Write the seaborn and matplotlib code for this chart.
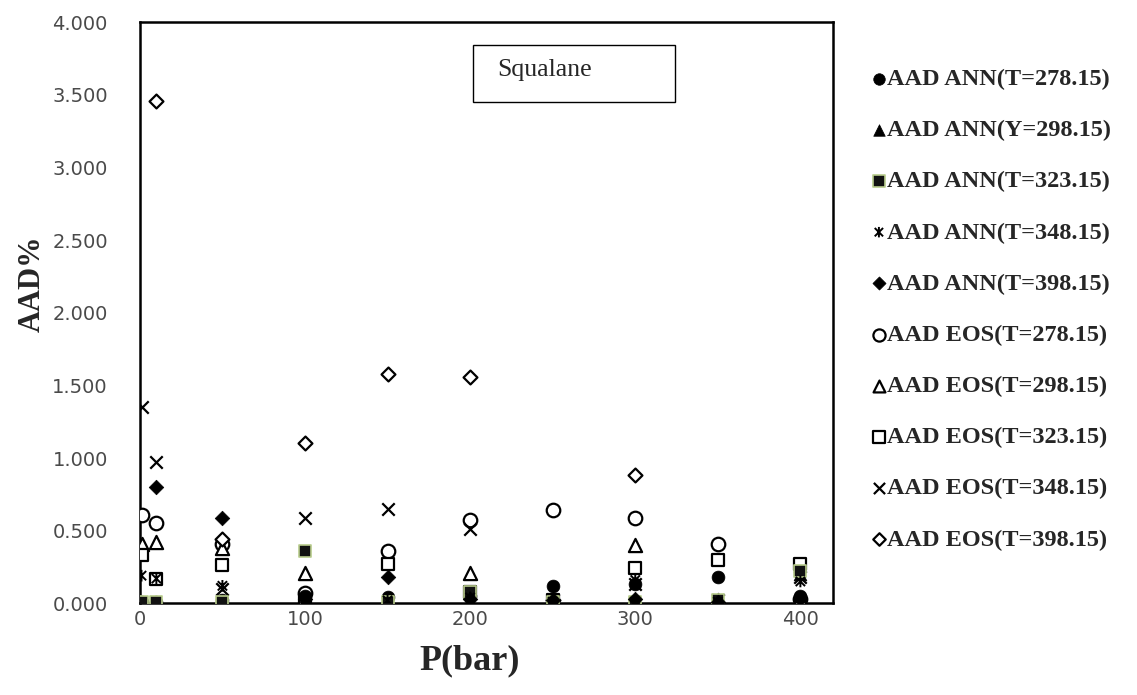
import numpy as np
import pandas as pd
import matplotlib
matplotlib.use("Agg")
import matplotlib.pyplot as plt
from matplotlib.path import Path
from matplotlib.patches import Rectangle
import seaborn as sns

# ---- data ----
pressure = [1, 10, 50, 100, 150, 200, 250, 300, 350, 400]
ann_278 = [0.01, 0.01, 0.02, 0.05, 0.04, 0.05, 0.12, 0.13, 0.18, 0.05]
ann_298 = [0.01, 0.01, 0.01, 0.02, 0.02, 0.02, 0.02, 0.03, 0.02, 0.20]
ann_323 = [0.01, 0.01, 0.01, 0.36, 0.01, 0.08, 0.01, 0.01, 0.02, 0.22]
ann_348 = [0.19, 0.17, 0.12, 0.03, 0.02, 0.04, 0.01, 0.16, 0.01, 0.15]
ann_398 = [np.nan, 0.80, 0.59, 0.03, 0.18, 0.03, 0.02, 0.03, 0.01, 0.03]
eos_278 = [0.61, 0.55, 0.41, 0.07, 0.36, 0.57, 0.64, 0.59, 0.41, 0.03]
eos_298 = [0.41, 0.42, 0.38, 0.21, 0.02, 0.21, 0.03, 0.40, 0.02, 0.03]
eos_323 = [0.33, 0.17, 0.26, 0.02, 0.27, 0.08, 0.02, 0.24, 0.30, 0.27]
eos_348 = [1.35, 0.97, 0.10, 0.59, 0.65, 0.51, 0.02, 0.13, 0.02, 0.18]
eos_398 = [np.nan, 3.46, 0.44, 1.10, 1.58, 1.56, 0.02, 0.88, np.nan, np.nan]

labels = [
    "AAD ANN(T=278.15)", "AAD ANN(Y=298.15)", "AAD ANN(T=323.15)",
    "AAD ANN(T=348.15)", "AAD ANN(T=398.15)", "AAD EOS(T=278.15)",
    "AAD EOS(T=298.15)", "AAD EOS(T=323.15)", "AAD EOS(T=348.15)",
    "AAD EOS(T=398.15)",
]
series = [ann_278, ann_298, ann_323, ann_348, ann_398,
          eos_278, eos_298, eos_323, eos_348, eos_398]
x_ticks = [0, 100, 200, 300, 400]
y_ticks = [0.0, 0.5, 1.0, 1.5, 2.0, 2.5, 3.0, 3.5, 4.0]

# asterisk-like marker (x with vertical bar)
ast = Path([(-1, -1), (1, 1), (-1, 1), (1, -1), (0, -1.25), (0, 1.25)],
           [Path.MOVETO, Path.LINETO, Path.MOVETO, Path.LINETO, Path.MOVETO, Path.LINETO])

styles = [
    dict(marker="o", s=85, color="black", edgecolor="black", linewidth=0.5, zorder=4),
    dict(marker="^", s=85, color="black", edgecolor="black", linewidth=0.5, zorder=4),
    dict(marker="s", s=80, color="#111111", edgecolor="#b8cc8c", linewidth=1.2, zorder=4),
    dict(marker=ast, s=70, facecolor="none", edgecolor="black", linewidth=1.4, zorder=4),
    dict(marker="D", s=55, color="black", edgecolor="black", linewidth=0.5, zorder=4),
    dict(marker="o", s=95, facecolor="white", edgecolor="black", linewidth=1.6, zorder=3),
    dict(marker="^", s=90, facecolor="white", edgecolor="black", linewidth=1.6, zorder=3),
    dict(marker="s", s=85, facecolor="white", edgecolor="black", linewidth=1.6, zorder=3),
    dict(marker="x", s=80, color="black", linewidth=1.6, zorder=3),
    dict(marker="D", s=50, facecolor="white", edgecolor="black", linewidth=1.6, zorder=3),
]

sns.set_theme(style="white")
plt.rcParams["font.family"] = ["DejaVu Sans"]

fig = plt.figure(figsize=(11.37, 6.95), dpi=100)
ax = fig.add_axes([0.123, 0.132, 0.610, 0.836])

for lab, vals, st in zip(labels, series, styles):
    df = pd.DataFrame({"P": pressure, "AAD": vals})
    sns.scatterplot(data=df, x="P", y="AAD", ax=ax, label=lab, **st)

ax.set_xlim(0, 420)
ax.set_ylim(0, 4.0)
ax.set_xticks(x_ticks)
ax.set_yticks(y_ticks)
ax.set_yticklabels([f"{v:.3f}" for v in y_ticks])
ax.tick_params(axis="both", length=0, labelsize=14, labelcolor="#4a4a4a")
ax.tick_params(axis="y", pad=23)
ax.tick_params(axis="x", pad=5)
for sp in ax.spines.values():
    sp.set_visible(True)
    sp.set_color("black")
    sp.set_linewidth(1.8)

ax.set_xlabel("P(bar)", family="Liberation Serif", fontweight="bold", fontsize=26)
ax.set_ylabel("AAD%", family="Liberation Serif", fontweight="bold", fontsize=22)
ax.xaxis.set_label_coords(0.476, -0.07)
ax.yaxis.set_label_coords(-0.134, 0.55)

ax.add_patch(Rectangle((0.4805, 0.862), 0.2915, 0.098, transform=ax.transAxes,
                       facecolor="white", edgecolor="black", linewidth=1.0, zorder=5))
ax.text(0.515, 0.918, "Squalane", transform=ax.transAxes, family="Liberation Serif",
        fontsize=18.5, ha="left", va="center", zorder=6)

leg = ax.legend(loc="upper left", bbox_to_anchor=(1.04, 0.938), frameon=False,
                prop={"family": "Liberation Serif", "weight": "bold", "size": 17.5},
                labelspacing=1.2, handletextpad=0.0, handlelength=0.66,
                markerscale=0.9, borderaxespad=0)

fig.savefig("out.png", dpi=100, facecolor="white")
